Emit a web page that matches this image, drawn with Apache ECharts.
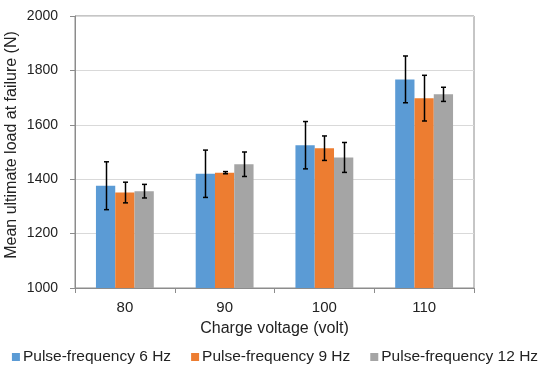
<!DOCTYPE html>
<html><head><meta charset="utf-8">
<script src="https://cdn.jsdelivr.net/npm/echarts@6/dist/echarts.min.js"></script>
<style>html,body{margin:0;padding:0;background:#fff}#c{width:550px;height:367px}</style>
</head><body><div id="c"></div>
<script>
var categories = ['80', '90', '100', '110'];
var seriesNames = ['Pulse-frequency 6 Hz', 'Pulse-frequency 9 Hz', 'Pulse-frequency 12 Hz'];
var yTicks = ['1000', '1200', '1400', '1600', '1800', '2000'];
var means6 = [1376, 1420, 1525, 1767];
var means9 = [1351, 1424, 1514, 1698];
var means12 = [1356, 1455, 1480, 1712];
var err6 = [88, 87, 87, 86];
var err9 = [38, 4, 45, 84];
var err12 = [25, 45, 55, 26];
var colors = ['#5b9bd5', '#ed7d31', '#a5a5a5'];

var means = [means6, means9, means12];
var errs = [err6, err9, err12];
var barPct = 0.58 / 3;
var FONT = 'Liberation Sans, Arial, sans-serif';

var series = [];
for (var s = 0; s < 3; s++) {
  series.push({
    name: seriesNames[s], type: 'bar', data: means[s],
    barGap: '0%', barCategoryGap: '42%',
    itemStyle: { color: colors[s] }
  });
}
for (var s = 0; s < 3; s++) {
  (function (si) {
    var d = means[si].map(function (m, i) { return [i, m - errs[si][i], m + errs[si][i]]; });
    series.push({
      type: 'custom', data: d, z: 10, silent: true,
      renderItem: function (params, api) {
        var cw = api.size([1, 0])[0];
        var bw = cw * barPct;
        var off = (si - 1) * bw;
        var lo = api.coord([api.value(0), api.value(1)]);
        var hi = api.coord([api.value(0), api.value(2)]);
        var x = Math.round(lo[0] + off) + 0.5;
        var cap = 2.5;
        var st = { stroke: '#000', lineWidth: 1.5 };
        return { type: 'group', children: [
          { type: 'line', shape: { x1: x, y1: hi[1], x2: x, y2: lo[1] }, style: st },
          { type: 'line', shape: { x1: x - cap, y1: hi[1], x2: x + cap, y2: hi[1] }, style: st },
          { type: 'line', shape: { x1: x - cap, y1: lo[1], x2: x + cap, y2: lo[1] }, style: st }
        ]};
      }
    });
  })(s);
}

var chart = echarts.init(document.getElementById('c'));
chart.setOption({
  animation: false,
  textStyle: { fontFamily: FONT },
  grid: { left: 75, right: 76, top: 16, bottom: 79, show: true, borderColor: '#8c8c8c', borderWidth: 1, outerBoundsMode: 'none', containLabel: false },
  legend: {
    data: seriesNames, top: 344, left: 'center', itemWidth: 8, itemHeight: 8, itemGap: 20,
    icon: 'rect',
    textStyle: { fontSize: 15.5, color: '#222', fontFamily: FONT, padding: [0, 0, 0, -2] }
  },
  graphic: [{
    type: 'text', x: 12, y: 145, rotation: Math.PI / 2,
    style: { text: 'Mean ultimate load at failure (N)', fontSize: 16, fontFamily: FONT, fill: '#222', textAlign: 'center', textVerticalAlign: 'middle' }
  }],
  xAxis: {
    type: 'category', data: categories,
    name: 'Charge voltage (volt)', nameLocation: 'middle', nameGap: 33,
    nameTextStyle: { fontSize: 16, color: '#222' },
    axisLine: { lineStyle: { color: '#8c8c8c' } },
    axisTick: { show: true, length: 5, lineStyle: { color: '#8c8c8c' } },
    axisLabel: { fontSize: 15, color: '#222', margin: 12 }
  },
  yAxis: {
    type: 'value', min: 1000, max: 2000, interval: 200,
    axisLine: { show: true, lineStyle: { color: '#8c8c8c' } },
    axisTick: { show: true, length: 5, lineStyle: { color: '#8c8c8c' } },
    axisLabel: { fontSize: 14, color: '#222', margin: 17, formatter: function (v) { return yTicks[Math.round((v - 1000) / 200)]; } },
    splitLine: { lineStyle: { color: '#d9d9d9' } }
  },
  series: series
});
</script></body></html>
